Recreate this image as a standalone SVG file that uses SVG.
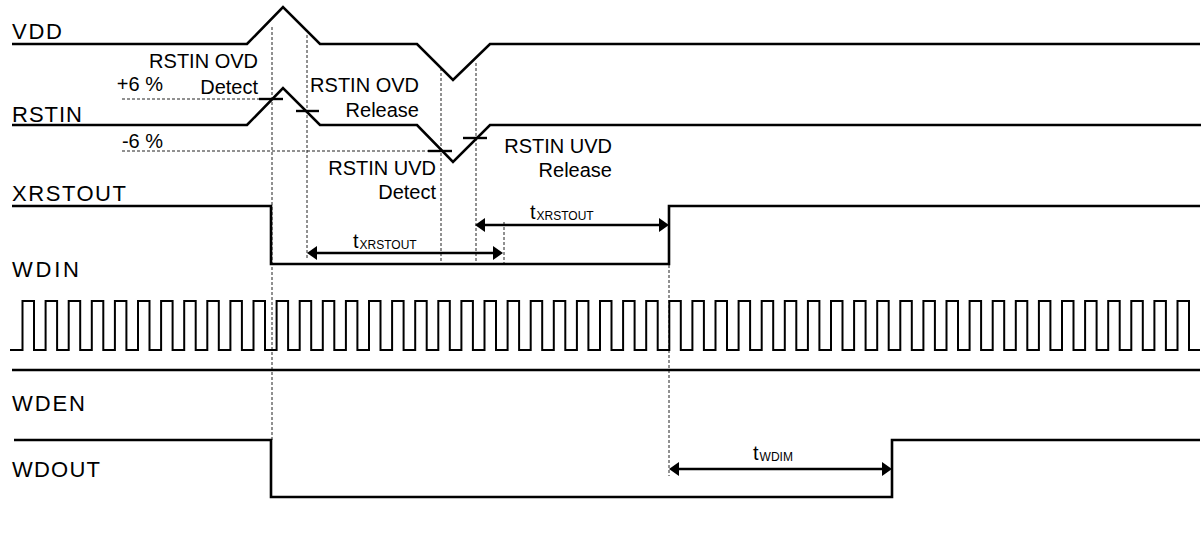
<svg xmlns="http://www.w3.org/2000/svg" width="1204" height="539" viewBox="0 0 1204 539">
<style>
text{font-family:"Liberation Sans",Arial,sans-serif;fill:#000}
.lbl{font-size:22px}
.ann{font-size:20px}
.sub{font-size:12px}
.sig{fill:none;stroke:#000;stroke-width:2.6;stroke-linejoin:miter}
.clk{fill:none;stroke:#000;stroke-width:2;stroke-linejoin:miter}
.tick{stroke:#000;stroke-width:2.4}
.dash{stroke:#222;stroke-width:1;stroke-dasharray:3 2;fill:none}
.arr{stroke:#000;stroke-width:2.6;marker-start:url(#ah);marker-end:url(#ah)}
</style>
<defs>
<marker id="ah" viewBox="0 0 10 14" refX="6" refY="7" markerWidth="10" markerHeight="14" markerUnits="userSpaceOnUse" orient="auto-start-reverse">
<path d="M0,0 L10,7 L0,14 z" fill="#000"/>
</marker>
</defs>
<rect width="1204" height="539" fill="#fff"/>

<g id="connectors">
<line class="dash" x1="272" y1="27" x2="272" y2="440"/>
<line class="dash" x1="307" y1="35" x2="307" y2="258"/>
<line class="dash" x1="441" y1="68" x2="441" y2="265"/>
<line class="dash" x1="476" y1="63" x2="476" y2="262"/>
<line class="dash" x1="504" y1="222" x2="504" y2="263"/>
<line class="dash" x1="669" y1="265" x2="669" y2="476"/>
<line class="dash" x1="122" y1="99" x2="259" y2="99"/>
<line class="dash" x1="122" y1="151" x2="428" y2="151"/>
<line class="arr" x1="311" y1="253" x2="499" y2="253"/>
<line class="arr" x1="479" y1="225" x2="665" y2="225"/>
<line class="arr" x1="673" y1="469" x2="888" y2="469"/>
</g>

<g id="vdd">
<text class="lbl" x="12" y="39" textLength="50" lengthAdjust="spacing">VDD</text>
<path class="sig" d="M12,44 L247,44 L283,7 L320,44 L417,44 L453,80 L490,44 L1200,44"/>
</g>

<g id="rstin">
<text class="lbl" x="12" y="122" textLength="70" lengthAdjust="spacing">RSTIN</text>
<path class="sig" d="M12,125 L247,125 L283,88 L320,125 L417,125 L453,162 L490,125 L1201,125"/>
<line class="tick" x1="259" y1="99" x2="283" y2="99"/>
<line class="tick" x1="296" y1="111" x2="319" y2="111"/>
<line class="tick" x1="428" y1="151" x2="452" y2="151"/>
<line class="tick" x1="463" y1="138" x2="487" y2="138"/>
<text class="ann" x="163" y="91" text-anchor="end">+6 %</text>
<text class="ann" x="163" y="148" text-anchor="end">-6 %</text>
</g>

<g id="ovd-detect">
<text class="ann" x="258" y="68" text-anchor="end">RSTIN OVD</text>
<text class="ann" x="258" y="94" text-anchor="end">Detect</text>
</g>
<g id="ovd-release">
<text class="ann" x="419" y="92" text-anchor="end">RSTIN OVD</text>
<text class="ann" x="419" y="117" text-anchor="end">Release</text>
</g>
<g id="uvd-detect">
<text class="ann" x="436" y="175" text-anchor="end">RSTIN UVD</text>
<text class="ann" x="436" y="199" text-anchor="end">Detect</text>
</g>
<g id="uvd-release">
<text class="ann" x="612" y="153" text-anchor="end">RSTIN UVD</text>
<text class="ann" x="612" y="177" text-anchor="end">Release</text>
</g>

<g id="xrstout">
<text class="lbl" x="12" y="201" textLength="114" lengthAdjust="spacing">XRSTOUT</text>
<path class="sig" d="M12,206 L271,206 L271,264 L669,264 L669,206 L1200,206"/>
</g>

<g id="t-xrstout-1">
<text class="ann" x="353" y="248">t<tspan class="sub" dx="1" dy="1">XRSTOUT</tspan></text>
</g>
<g id="t-xrstout-2">
<text class="ann" x="530" y="219">t<tspan class="sub" dx="1" dy="1">XRSTOUT</tspan></text>
</g>

<g id="wdin">
<text class="lbl" x="12" y="277" textLength="67" lengthAdjust="spacing">WDIN</text>
<path class="clk" d="M10,350 L22.5,350 L22.5,301 L34,301 L34,350 L45.6,350 L45.6,301 L57.1,301 L57.1,350 L68.7,350 L68.7,301 L80.2,301 L80.2,350 L91.8,350 L91.8,301 L103.3,301 L103.3,350 L114.9,350 L114.9,301 L126.4,301 L126.4,350 L138,350 L138,301 L149.5,301 L149.5,350 L161.1,350 L161.1,301 L172.6,301 L172.6,350 L184.2,350 L184.2,301 L195.7,301 L195.7,350 L207.3,350 L207.3,301 L218.8,301 L218.8,350 L230.4,350 L230.4,301 L241.9,301 L241.9,350 L253.5,350 L253.5,301 L265,301 L265,350 L276.6,350 L276.6,301 L288.1,301 L288.1,350 L299.7,350 L299.7,301 L311.2,301 L311.2,350 L322.8,350 L322.8,301 L334.3,301 L334.3,350 L345.9,350 L345.9,301 L357.4,301 L357.4,350 L369,350 L369,301 L380.5,301 L380.5,350 L392.1,350 L392.1,301 L403.6,301 L403.6,350 L415.2,350 L415.2,301 L426.7,301 L426.7,350 L438.3,350 L438.3,301 L449.8,301 L449.8,350 L461.4,350 L461.4,301 L472.9,301 L472.9,350 L484.5,350 L484.5,301 L496,301 L496,350 L507.6,350 L507.6,301 L519.1,301 L519.1,350 L530.7,350 L530.7,301 L542.2,301 L542.2,350 L553.8,350 L553.8,301 L565.3,301 L565.3,350 L576.9,350 L576.9,301 L588.4,301 L588.4,350 L600,350 L600,301 L611.5,301 L611.5,350 L623.1,350 L623.1,301 L634.6,301 L634.6,350 L646.2,350 L646.2,301 L657.7,301 L657.7,350 L669.3,350 L669.3,301 L680.8,301 L680.8,350 L692.4,350 L692.4,301 L703.9,301 L703.9,350 L715.5,350 L715.5,301 L727,301 L727,350 L738.6,350 L738.6,301 L750.1,301 L750.1,350 L761.7,350 L761.7,301 L773.2,301 L773.2,350 L784.8,350 L784.8,301 L796.3,301 L796.3,350 L807.9,350 L807.9,301 L819.4,301 L819.4,350 L831,350 L831,301 L842.5,301 L842.5,350 L854.1,350 L854.1,301 L865.6,301 L865.6,350 L877.2,350 L877.2,301 L888.7,301 L888.7,350 L900.3,350 L900.3,301 L911.8,301 L911.8,350 L923.4,350 L923.4,301 L934.9,301 L934.9,350 L946.5,350 L946.5,301 L958,301 L958,350 L969.6,350 L969.6,301 L981.1,301 L981.1,350 L992.7,350 L992.7,301 L1004.2,301 L1004.2,350 L1015.8,350 L1015.8,301 L1027.3,301 L1027.3,350 L1038.9,350 L1038.9,301 L1050.4,301 L1050.4,350 L1062,350 L1062,301 L1073.5,301 L1073.5,350 L1085.1,350 L1085.1,301 L1096.6,301 L1096.6,350 L1108.2,350 L1108.2,301 L1119.7,301 L1119.7,350 L1131.3,350 L1131.3,301 L1142.8,301 L1142.8,350 L1154.4,350 L1154.4,301 L1165.9,301 L1165.9,350 L1177.5,350 L1177.5,301 L1189,301 L1189,350 L1200,350"/>
<line class="sig" x1="12" y1="370" x2="1200" y2="370"/>
</g>

<g id="wden">
<text class="lbl" x="12" y="411" textLength="73" lengthAdjust="spacing">WDEN</text>
</g>

<g id="wdout">
<text class="lbl" x="12" y="477" textLength="88" lengthAdjust="spacing">WDOUT</text>
<path class="sig" d="M14,440 L271,440 L271,497 L892,497 L892,440 L1200,440"/>
</g>

<g id="t-wdim">
<text class="ann" x="753" y="460">t<tspan class="sub" dx="1" dy="1">WDIM</tspan></text>
</g>
</svg>
